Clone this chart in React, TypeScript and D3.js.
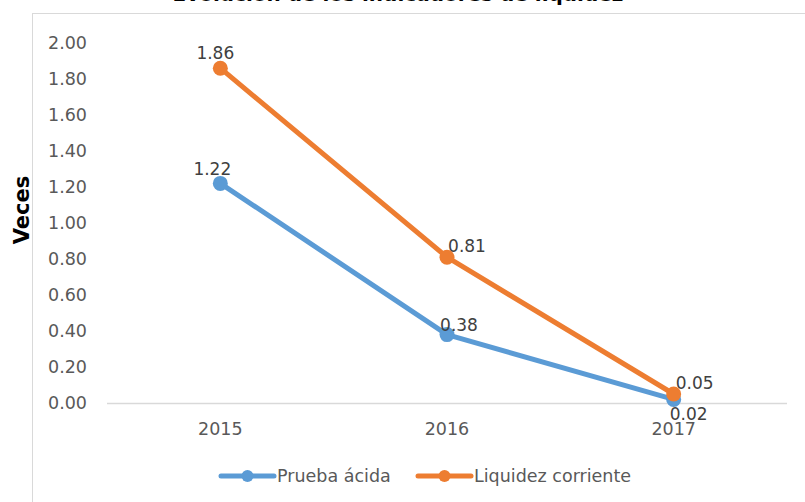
import React from "react";
import * as d3 from "d3";

const title = "Evolución de los indicadores de liquidez";
const yAxisTitle = "Veces";
const years = ["2015", "2016", "2017"];
const pruebaAcida = [1.22, 0.38, 0.02];
const liquidezCorriente = [1.86, 0.81, 0.05];
const yTicks = [0, 0.2, 0.4, 0.6, 0.8, 1.0, 1.2, 1.4, 1.6, 1.8, 2.0];
const seriesNames = ["Prueba ácida", "Liquidez corriente"];
const seriesColors = ["#5b9bd5", "#ed7d31"];
// label offsets (dx, dy) relative to each point
const labelOffsetsPrueba: [number, number][] = [[-8, -8], [12, -4], [15, 21]];
const labelOffsetsLiquidez: [number, number][] = [[-5, -9], [20, -5], [21, -5]];

const W = 805;
const H = 502;
const font = "'DejaVu Sans', Verdana, sans-serif";

export default function App() {
  const x = d3.scaleBand<string>().domain(years).range([107, 787]);
  const y = d3.scaleLinear().domain([0, 2]).range([403, 43]);
  const cx = (d: string) => (x(d) as number) + x.bandwidth() / 2;

  const line = d3
    .line<number>()
    .x((_, i) => cx(years[i]))
    .y((v) => y(v));

  const series = [
    { name: seriesNames[0], values: pruebaAcida, color: seriesColors[0], offs: labelOffsetsPrueba },
    { name: seriesNames[1], values: liquidezCorriente, color: seriesColors[1], offs: labelOffsetsLiquidez },
  ];

  const legendItems = [
    { x0: 221, color: seriesColors[0], name: seriesNames[0] },
    { x0: 418, color: seriesColors[1], name: seriesNames[1] },
  ];

  return (
    <div style={{ position: "absolute", left: 0, top: 0 }}>
      <svg width={W} height={H} style={{ display: "block", background: "#fff" }}>
        <rect x={32.5} y={13.5} width={W} height={H} fill="#fff" stroke="#d9d9d9" strokeWidth={1} />
        <text
          x={398}
          y={0.5}
          textAnchor="middle"
          fontFamily={font}
          fontWeight="bold"
          fontSize={20}
          fill="#000"
        >
          {title}
        </text>
        <text
          transform={`translate(29, 210) rotate(-90)`}
          textAnchor="middle"
          fontFamily={font}
          fontWeight="bold"
          fontSize={21}
          fill="#000"
        >
          {yAxisTitle}
        </text>
        {yTicks.map((t) => (
          <text
            key={t}
            x={87}
            y={y(t)}
            dy="0.36em"
            textAnchor="end"
            fontFamily={font}
            fontSize={17.5}
            fill="#595959"
          >
            {t.toFixed(2)}
          </text>
        ))}
        <line x1={107} x2={787} y1={y(0) + 0.5} y2={y(0) + 0.5} stroke="#d9d9d9" strokeWidth={1.5} />
        {years.map((yr) => (
          <text
            key={yr}
            x={cx(yr)}
            y={435}
            textAnchor="middle"
            fontFamily={font}
            fontSize={17.5}
            fill="#595959"
          >
            {yr}
          </text>
        ))}
        {series.map((s) => (
          <g key={s.name}>
            <path d={line(s.values) || ""} fill="none" stroke={s.color} strokeWidth={5} strokeLinejoin="round" strokeLinecap="round" />
            {s.values.map((v, i) => (
              <circle key={i} cx={cx(years[i])} cy={y(v)} r={7.5} fill={s.color} />
            ))}
          </g>
        ))}
        {series.map((s) =>
          s.values.map((v, i) => (
            <text
              key={s.name + i}
              x={cx(years[i]) + s.offs[i][0]}
              y={y(v) + s.offs[i][1]}
              textAnchor="middle"
              fontFamily={font}
              fontSize={17}
              fill="#404040"
            >
              {v.toFixed(2)}
            </text>
          ))
        )}
        {legendItems.map((it) => (
          <g key={it.name}>
            <line x1={it.x0} x2={it.x0 + 53} y1={476} y2={476} stroke={it.color} strokeWidth={5} strokeLinecap="round" />
            <circle cx={it.x0 + 26.5} cy={476} r={6} fill={it.color} />
            <text x={it.x0 + 56} y={476} dy="0.36em" fontFamily={font} fontSize={17.5} fill="#595959">
              {it.name}
            </text>
          </g>
        ))}
      </svg>
    </div>
  );
}
